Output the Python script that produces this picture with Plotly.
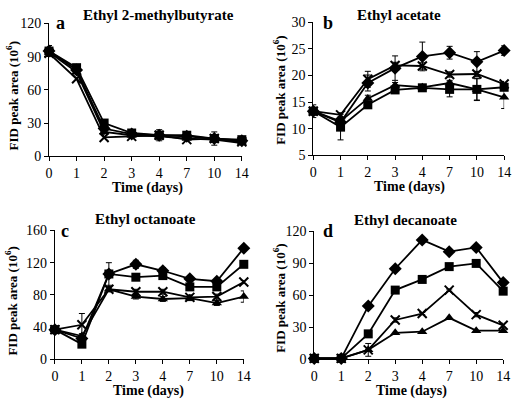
import plotly.graph_objects as go

days = ["0", "1", "2", "3", "4", "7", "10", "14"]

# Panel a: Ethyl 2-methylbutyrate
a_diamond = [95, 78, 25, 20, 19, 18, 16, 14]
a_square = [95, 80, 30, 21, 19, 19, 16, 15]
a_triangle = [94, 76, 22, 19, 18, 16, 15, 12]
a_cross = [93, 70, 17, 18, 19, 15, 16, 13]
a_err_diamond = [5, 2, 2, 2, 5, 2, 6, 2]
a_err_square = [2, 2, 2, 1, 2, 2, 2, 2]

# Panel b: Ethyl acetate
b_diamond = [13.3, 11.2, 18.6, 21.4, 23.6, 24.3, 22.6, 24.7]
b_square = [13.3, 10.3, 14.5, 17.3, 17.7, 17.4, 17.4, 17.8]
b_triangle = [13.3, 11.4, 15.7, 18.2, 17.8, 18.6, 17.4, 15.9]
b_cross = [13.3, 12.6, 19.3, 21.9, 21.8, 20.2, 20.3, 18.4]
b_err_diamond = [1.2, 0.6, 1.5, 2.3, 2.7, 1.2, 1.9, 0.9]
b_err_square = [0.5, 2.4, 0.6, 0.5, 0.6, 1.4, 2.1, 0.6]
b_err_triangle = [0.5, 0.5, 0.6, 0.5, 0.5, 0.5, 2.0, 2.1]
b_err_cross = [0.5, 0.4, 1.5, 0.6, 0.6, 0.5, 0.5, 0.5]

# Panel c: Ethyl octanoate
c_diamond = [37, 26, 106, 118, 110, 100, 97, 138]
c_square = [37, 19, 106, 102, 104, 90, 90, 118]
c_triangle = [37, 29, 87, 78, 75, 76, 70, 78]
c_cross = [37, 43, 87, 84, 84, 77, 78, 96]
c_err_diamond = [2, 3, 3, 5, 4, 2, 2, 2]
c_err_square = [2, 3, 14, 2, 3, 3, 3, 2]
c_err_triangle = [2, 3, 3, 3, 3, 3, 3, 7]
c_err_cross = [2, 14, 3, 3, 3, 3, 3, 2]

# Panel d: Ethyl decanoate
d_diamond = [1, 1, 50, 85, 112, 101, 105, 72]
d_square = [1, 1, 24, 65, 75, 87, 90, 64]
d_triangle = [1, 1, 9, 25, 26, 39, 27, 27]
d_cross = [1, 1, 9, 37, 43, 65, 42, 32]
d_err_cross = [0, 0, 6, 2, 1, 1, 2, 2]

titles = ["Ethyl 2-methylbutyrate", "Ethyl acetate", "Ethyl octanoate", "Ethyl decanoate"]
letters = ["a", "b", "c", "d"]
y_ranges = [(0, 120), (5, 30), (0, 160), (0, 120)]
y_dticks = [30, 5, 40, 30]

W, H = 518, 406
FONT = "Liberation Serif"

# pixel boxes (left, right, top, bottom)
boxes = [(46, 243, 17, 155), (316, 511, 16, 154), (52, 245, 232, 366), (317, 510, 233, 366)]

panels = [
    [(a_diamond, a_err_diamond, "diamond", 10), (a_square, a_err_square, "square", 9),
     (a_triangle, None, "triangle-up", 9), (a_cross, None, "x-thin", 9)],
    [(b_diamond, b_err_diamond, "diamond", 10), (b_square, b_err_square, "square", 9),
     (b_triangle, b_err_triangle, "triangle-up", 9), (b_cross, b_err_cross, "x-thin", 9)],
    [(c_diamond, c_err_diamond, "diamond", 10), (c_square, c_err_square, "square", 9),
     (c_triangle, c_err_triangle, "triangle-up", 9), (c_cross, c_err_cross, "x-thin", 9)],
    [(d_diamond, None, "diamond", 10), (d_square, None, "square", 9),
     (d_triangle, None, "triangle-up", 9), (d_cross, d_err_cross, "x-thin", 9)],
]

fig = go.Figure()
xpos = list(range(len(days)))

layout = dict(
    width=W, height=H, margin=dict(l=0, r=0, t=0, b=0),
    paper_bgcolor="white", plot_bgcolor="white", showlegend=False,
    font=dict(family=FONT, color="black"),
)
annotations = []

for i, series in enumerate(panels):
    n = "" if i == 0 else str(i + 1)
    xa, ya = "x" + n, "y" + n
    for vals, err, sym, size in series:
        marker = dict(symbol=sym, size=size, color="black",
                      line=dict(color="black", width=2 if sym == "x-thin" else 0))
        kw = {}
        if err is not None:
            kw["error_y"] = dict(type="data", array=err, visible=True, color="black",
                                 thickness=1, width=3)
        fig.add_trace(go.Scatter(x=xpos, y=vals, mode="lines+markers", xaxis=xa, yaxis=ya,
                                 line=dict(color="black", width=1.8), marker=marker,
                                 cliponaxis=False, **kw))
    l, r, t, b = boxes[i]
    common = dict(showline=True, linecolor="black", linewidth=1, ticks="outside",
                  ticklen=4, tickcolor="black", showgrid=False, zeroline=False,
                  tickfont=dict(family=FONT, size=14, color="black"))
    layout["xaxis" + n] = dict(domain=[l / W, r / W], anchor=ya, range=[0, 7],
                               tickvals=xpos, ticktext=days, **common)
    lo, hi = y_ranges[i]
    layout["yaxis" + n] = dict(domain=[1 - b / H, 1 - t / H], anchor=xa, range=[lo, hi],
                               dtick=y_dticks[i], tick0=0, **common)

# text positions (pixels)
title_pos = [(158, 8), (404, 8), (145, 220), (410, 221)]
letter_pos = [(58, 17), (331, 17), (62, 233), (331, 233)]
xt_pos = [(147, 188), (414, 187), (148, 399), (416, 399)]
yt_pos = [(8, 92), (281, 87), (7, 305), (281, 303)]

for i in range(4):
    tx, ty = title_pos[i]
    annotations.append(dict(x=tx / W, y=1 - ty / H, xref="paper", yref="paper", text="<b>" + titles[i] + "</b>",
                            showarrow=False, font=dict(family=FONT, size=15, color="black"),
                            xanchor="center", yanchor="middle"))
    lx, ly = letter_pos[i]
    annotations.append(dict(x=lx / W, y=1 - ly / H, xref="paper", yref="paper", text="<b>" + letters[i] + "</b>",
                            showarrow=False, font=dict(family=FONT, size=18, color="black"),
                            xanchor="center", yanchor="middle"))
    xx, xy = xt_pos[i]
    annotations.append(dict(x=xx / W, y=1 - xy / H, xref="paper", yref="paper", text="<b>Time (days)</b>",
                            showarrow=False, font=dict(family=FONT, size=14, color="black"),
                            xanchor="center", yanchor="middle"))
    yx, yy = yt_pos[i]
    annotations.append(dict(x=yx / W, y=1 - yy / H, xref="paper", yref="paper",
                            text="<b>FID peak area (10<sup>6</sup>)</b>", textangle=-90,
                            showarrow=False, font=dict(family=FONT, size=13, color="black"),
                            xanchor="center", yanchor="middle"))

layout["annotations"] = annotations
fig.update_layout(**layout)
fig.write_html("out.html", config={"displayModeBar": False},
               post_script="document.body.style.margin='0';document.body.style.overflow='hidden';")
